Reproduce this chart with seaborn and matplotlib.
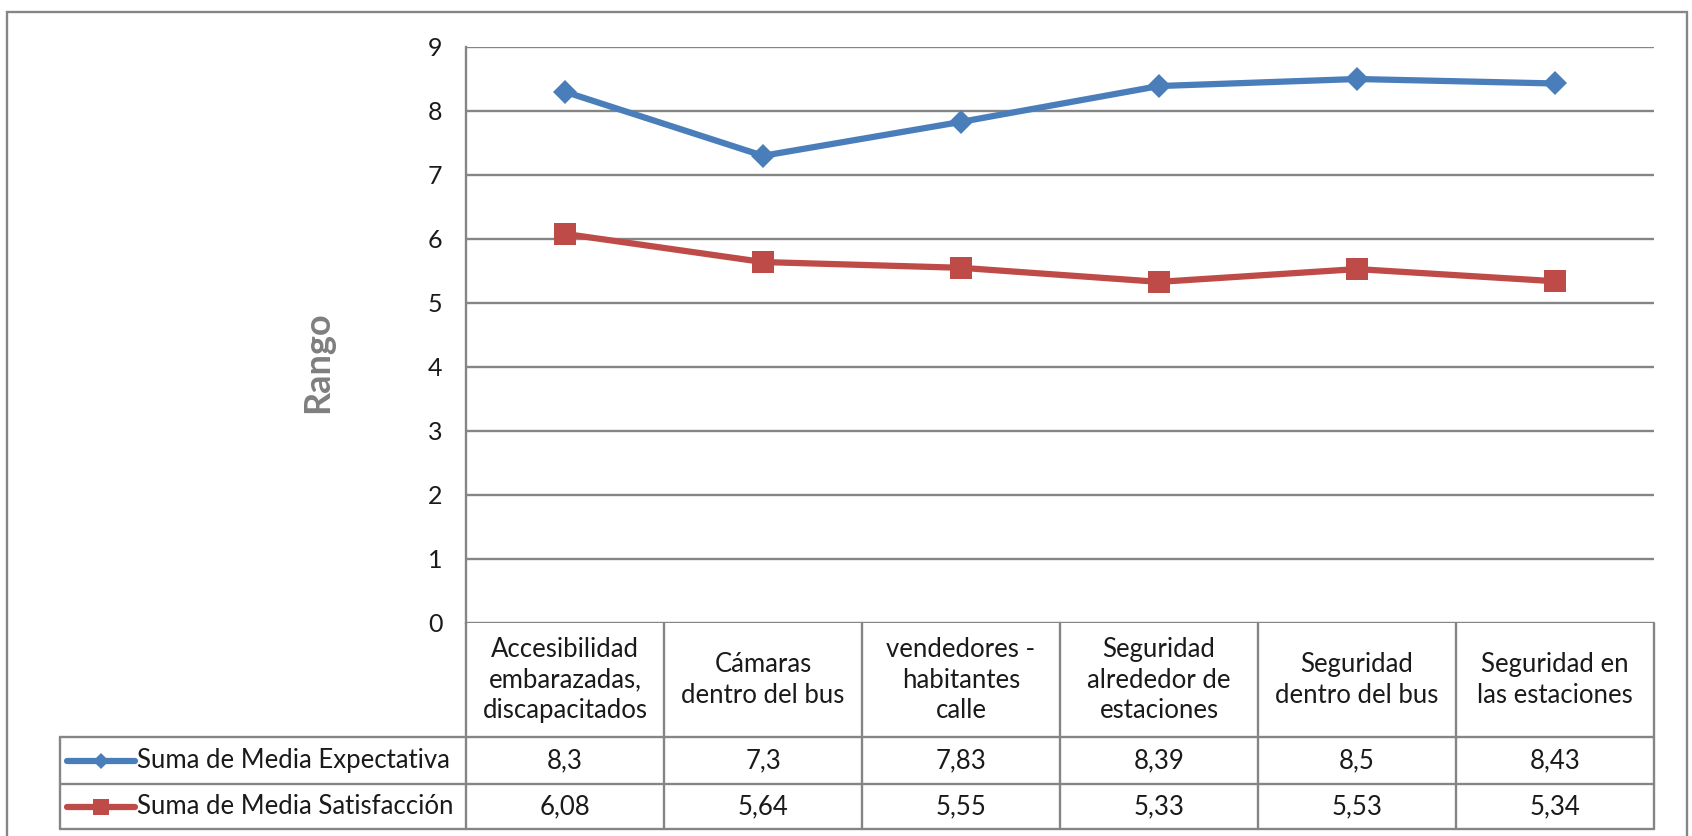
import numpy as np
import pandas as pd
import matplotlib
matplotlib.use("Agg")
import matplotlib.pyplot as plt
import seaborn as sns
from matplotlib.lines import Line2D
from matplotlib.patches import Rectangle
from matplotlib.transforms import blended_transform_factory

# --- datos ---
categorias = [
    "Accesibilidad\nembarazadas,\ndiscapacitados",
    "Cámaras\ndentro del bus",
    "vendedores -\nhabitantes\ncalle",
    "Seguridad\nalrededor de\nestaciones",
    "Seguridad\ndentro del bus",
    "Seguridad en\nlas estaciones",
]
expectativa = [8.3, 7.3, 7.83, 8.39, 8.5, 8.43]
satisfaccion = [6.08, 5.64, 5.55, 5.33, 5.53, 5.34]
series = ["Suma de Media Expectativa", "Suma de Media Satisfacción"]
y_ticks = [0, 1, 2, 3, 4, 5, 6, 7, 8, 9]
y_label = "Rango"

AZUL = "#4A7EBB"
ROJO = "#BE4B48"
GRIS = "#858585"
TXT = "#1a1a1a"
FS = 18.5

W, H = 1692, 836
sns.set_theme(style="white")
plt.rcParams['font.family'] = ['Lato', 'DejaVu Sans']


def fx(px):
    return px / W


def fy(py):
    return 1 - py / H


fig = plt.figure(figsize=(W / 100, H / 100), dpi=100)
fig.patch.set_facecolor("white")

# area del grafico en pixeles
L, R, T, B = 466, 1654, 47, 623
ax = fig.add_axes([fx(L), fy(B), fx(R) - fx(L), fy(T) - fy(B)])

df = pd.DataFrame({
    "pos": np.arange(len(categorias)),
    "exp": expectativa,
    "sat": satisfaccion,
})
sns.lineplot(data=df, x="pos", y="exp", ax=ax, color=AZUL, lw=4.5,
             marker="D", markersize=12, markeredgewidth=0, zorder=4)
sns.lineplot(data=df, x="pos", y="sat", ax=ax, color=ROJO, lw=4.5,
             marker="s", markersize=16, markeredgewidth=0, zorder=4)

ax.set_xlim(-0.5, len(categorias) - 0.5)
ax.set_ylim(0, 9)
ax.set_yticks(y_ticks)
ax.set_xticks([])
ax.set_xlabel("")
ax.set_ylabel("")
ax.yaxis.grid(True, color=GRIS, lw=1.7)
ax.xaxis.grid(False)
for s in ["top", "right", "bottom"]:
    ax.spines[s].set_visible(False)
ax.spines["left"].set_color(GRIS)
ax.spines["left"].set_linewidth(1.7)
ax.tick_params(axis="y", length=0, pad=17, labelsize=18, labelcolor=TXT)

fig.text(fx(318), fy(362), y_label, rotation=90, ha="center", va="center",
         fontsize=26, fontweight="bold", color="#7f7f7f")

# --- tabla de datos ---
tr = blended_transform_factory(ax.transData, fig.transFigure)
row_y = [737, 784, 829]
tl = 60


def hline(y, x0, x1):
    fig.add_artist(Line2D([fx(x0), fx(x1)], [fy(y), fy(y)], color=GRIS, lw=1.7))


def vline(x, y0, y1):
    fig.add_artist(Line2D([fx(x), fx(x)], [fy(y0), fy(y1)], color=GRIS, lw=1.7))


for y in row_y:
    hline(y, tl, R)
vline(tl, row_y[0], row_y[2])
vline(L, B, row_y[2])
for b in np.arange(len(categorias)) + 0.5:
    fig.add_artist(Line2D([b, b], [fy(B), fy(row_y[2])], transform=tr, color=GRIS, lw=1.7))

for i, cat in enumerate(categorias):
    fig.text(i, fy((B + row_y[0]) / 2), cat, transform=tr, ha="center", va="center",
             fontsize=FS, linespacing=1.28, color=TXT)
    fig.text(i, fy((row_y[0] + row_y[1]) / 2), str(expectativa[i]).replace(".", ","),
             transform=tr, ha="center", va="center", fontsize=FS, color=TXT)
    fig.text(i, fy((row_y[1] + row_y[2]) / 2), str(satisfaccion[i]).replace(".", ","),
             transform=tr, ha="center", va="center", fontsize=FS, color=TXT)

# claves de leyenda
for k, (nombre, col, mk, ms) in enumerate([(series[0], AZUL, "D", 8), (series[1], ROJO, "s", 12)]):
    yc = fy((row_y[k] + row_y[k + 1]) / 2)
    fig.add_artist(Line2D([fx(67), fx(135)], [yc, yc], color=col, lw=4.5,
                          solid_capstyle="round"))
    fig.add_artist(Line2D([fx(101)], [yc], color=col, marker=mk, markersize=ms,
                          markeredgewidth=0))
    fig.text(fx(137), yc, nombre, ha="left", va="center", fontsize=FS, color=TXT)

# borde exterior
fig.add_artist(Rectangle((fx(7), fy(850)), fx(1687) - fx(7), fy(12) - fy(850),
                         fill=False, edgecolor=GRIS, lw=1.7))

fig.savefig("out.png", dpi=100)
